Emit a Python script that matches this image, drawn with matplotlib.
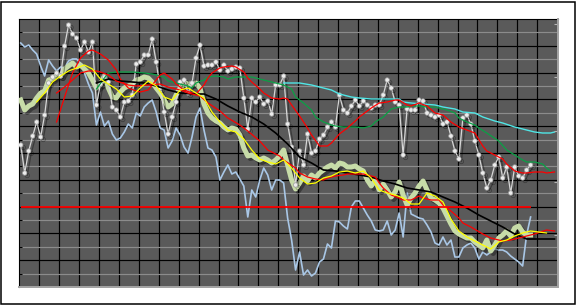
import numpy as np
import matplotlib
matplotlib.use("Agg")
import matplotlib.pyplot as plt
import matplotlib.patheffects as pe
from matplotlib.patches import Rectangle

# one bar index for the three raw series; chart units, 0 = bottom of the panel
BARS = np.arange(129)

white_vals = [142, 114, 136, 151, 165, 150, 172, 204, 210, 214, 211, 241, 262, 253, 249, 237,
              245, 235, 245, 182, 203, 210, 205, 180, 177, 170, 185, 186, 192, 223, 225, 232,
              232, 248, 225, 199, 175, 153, 170, 185, 205, 207, 194, 204, 229, 242, 221, 222,
              222, 225, 217, 222, 216, 218, 220, 219, 189, 158, 189, 185, 190, 183, 186, 173,
              202, 202, 211, 163, 140, 102, 136, 122, 153, 134, 136, 148, 152, 160, 165, 160,
              192, 177, 174, 181, 187, 181, 186, 182, 179, 182, 182, 192, 207, 199, 185, 182,
              132, 178, 177, 177, 187, 186, 174, 172, 170, 172, 163, 165, 151, 136, 128, 169,
              172, 163, 146, 132, 114, 99, 107, 122, 130, 109, 120, 94, 120, 111, 109, 117, 122]

green_vals = [187, 177, 181, 183, 189, 194, 196, 207, 208, 212, 211, 218, 221, 224, 220, 222,
              218, 214, 207, 199, 203, 211, 199, 190, 189, 195, 199, 201, 203, 207, 208, 210,
              209, 205, 199, 194, 187, 180, 183, 192, 199, 204, 203, 203, 204, 199, 183, 174,
              169, 166, 164, 160, 157, 159, 158, 152, 139, 131, 132, 129, 127, 129, 127, 124,
              127, 131, 137, 122, 107, 98, 104, 111, 106, 112, 109, 114, 117, 120, 122, 119,
              124, 123, 120, 120, 121, 118, 116, 107, 101, 107, 97, 103, 97, 90, 95, 105,
              92, 82, 89, 94, 101, 106, 97, 89, 87, 84, 79, 71, 63, 56, 53, 51,
              49, 49, 45, 42, 39, 47, 36, 42, 49, 52, 56, 51, 59, 61, 55, 52, 52]

blue_vals = [244, 240, 242, 237, 233, 221, 211, 227, 221, 216, 220, 219, 226, 228, 228, 224,
             214, 203, 194, 162, 175, 161, 166, 153, 147, 149, 155, 163, 159, 174, 171, 180,
             184, 187, 175, 159, 157, 139, 146, 159, 152, 140, 134, 150, 170, 179, 157, 139,
             137, 130, 107, 115, 122, 113, 115, 108, 101, 70, 97, 90, 107, 119, 112, 97,
             107, 107, 104, 69, 47, 17, 35, 12, 17, 11, 14, 25, 28, 43, 39, 66,
             65, 61, 58, 80, 86, 86, 79, 72, 66, 57, 56, 57, 66, 52, 57, 74,
             50, 94, 73, 71, 69, 68, 62, 55, 44, 42, 50, 42, 47, 30, 30, 39,
             42, 44, 39, 28, 35, 32, 35, 38, 37, 37, 35, 31, 28, 25, 21, 52, 70]

# averages drawn over the raw series (they run a few bars past the last one)
yellow_k = list(range(4, 133, 2))
yellow_v = [185, 194, 205, 211, 216, 219, 222, 218, 208, 203, 198, 190, 191, 199, 206, 201,
            190, 187, 197, 199, 194, 189, 175, 165, 157, 155, 148, 137, 128, 125, 123, 127,
            119, 109, 103, 104, 109, 111, 115, 116, 114, 116, 109, 97, 94, 92, 89, 83,
            83, 94, 91, 85, 68, 56, 50, 46, 42, 38, 45, 47, 51, 54, 56, 55, 54]

black_k = [19, 22, 25, 28, 31, 34, 37, 40, 43, 46, 49, 52, 55, 58, 61, 64, 67, 70, 73, 76,
           79, 82, 85, 88, 91, 94, 97, 100, 103, 106, 109, 112, 115, 118, 121, 124, 127,
           130, 133, 134]
black_v = [204, 208, 206, 205, 204, 201, 197, 194, 193, 193, 188, 181, 175, 170, 163, 154,
           143, 130, 124, 117, 116, 114, 112, 110, 106, 103, 99, 97, 95, 90, 85, 79,
           72, 66, 60, 53, 48, 48, 48, 48]

red_a_k = [9, 11, 13, 15, 17, 18, 20, 22, 24, 25, 27, 29, 30, 32, 35, 36, 38, 39, 41, 43,
           44, 46, 47, 48, 50, 51, 53, 54, 56, 57, 58, 60, 61, 63, 65, 66, 67, 68, 70, 72,
           73, 75, 77, 78, 80, 82, 84, 85, 87, 88, 90, 92, 94, 95, 97, 98, 100, 102, 104,
           106, 108, 110, 112, 114, 116, 117, 119, 121, 122, 124, 126, 127, 129, 131, 132, 134]
red_a_v = [165, 190, 214, 229, 236, 237, 233, 227, 217, 208, 199, 196, 195, 197, 212, 214,
           208, 203, 197, 194, 193, 202, 209, 214, 219, 220, 221, 220, 215, 209, 205, 198,
           194, 189, 188, 189, 188, 182, 171, 159, 152, 141, 141, 144, 153, 159, 166, 170,
           176, 179, 184, 185, 187, 187, 182, 181, 184, 181, 174, 172, 165, 160, 157, 154,
           141, 136, 132, 128, 123, 116, 114, 114, 115, 115, 114, 115]

red_b_k = [9, 11, 13, 15, 17, 19, 20, 22, 24, 27, 29, 32, 35, 37, 40, 42, 45, 47, 50, 52,
           55, 57, 60, 62, 65, 66, 69, 70, 72, 74, 76, 77, 79, 81, 82, 84, 86, 87, 89, 90,
           91, 93, 95, 96, 98, 100, 101, 103, 105, 106, 108, 110, 111, 113, 116, 118, 121,
           123, 126, 129, 132, 134]
red_b_v = [194, 200, 207, 214, 216, 216, 215, 212, 206, 202, 201, 202, 203, 200, 197, 194,
           191, 184, 176, 169, 162, 156, 146, 137, 131, 127, 119, 114, 110, 108, 107, 109,
           111, 112, 113, 113, 113, 112, 110, 104, 99, 92, 89, 87, 87, 91, 89, 87,
           87, 82, 76, 69, 64, 60, 53, 49, 46, 47, 50, 53, 57, 56]

dgreen_k = [19, 21, 22, 24, 26, 28, 31, 33, 36, 37, 39, 42, 43, 44, 46, 47, 49, 51, 52, 54,
            56, 58, 59, 61, 63, 64, 66, 68, 69, 71, 73, 74, 76, 78, 79, 81, 83, 84, 86, 88,
            89, 91, 92, 93, 95, 97, 98, 100, 102, 104, 105, 107, 109, 110, 112, 114, 115,
            117, 120, 122, 124, 126, 127, 129, 131, 132, 133]
dgreen_v = [198, 209, 214, 215, 215, 215, 214, 213, 210, 206, 204, 201, 199, 204, 207, 210,
            211, 210, 208, 210, 210, 210, 209, 207, 205, 204, 202, 198, 190, 184, 177, 170,
            165, 162, 161, 160, 160, 160, 159, 161, 165, 170, 174, 178, 180, 180, 181, 181,
            180, 180, 179, 177, 174, 169, 165, 162, 159, 154, 146, 137, 132, 127, 125, 125,
            123, 119, 116]

cyan_k = [66, 68, 70, 73, 75, 78, 80, 83, 85, 88, 90, 93, 95, 96, 98, 101, 104, 106, 109,
          111, 114, 116, 119, 121, 124, 126, 129, 131, 133, 134]
cyan_v = [204, 204, 204, 202, 200, 197, 193, 190, 189, 188, 188, 188, 188, 185, 184, 183,
          182, 180, 178, 175, 174, 170, 166, 164, 160, 158, 155, 154, 154, 155]

LEVEL = 80.3          # horizontal reference line
LEVEL_END = 128
RIGHT_TICKS = [51.7, 104.7, 156.3, 209.7, 262.7]   # second scale on the right edge

PANEL = "#5a5a5a"
MINOR = "#8c8c8c"

fig = plt.figure(figsize=(5.76, 3.06), dpi=100)
fig.patch.set_facecolor("white")
fig.patches.append(Rectangle((0.0026, 0.005), 0.9948, 0.990, transform=fig.transFigure,
                             fill=False, edgecolor="black", linewidth=1.1))

ax = fig.add_axes([0.0337, 0.0621, 0.9345, 0.8758])
ax.set_facecolor(PANEL)
ax.set_xlim(-1 / 3, 134.8)
ax.set_ylim(0, 268)

# grid: black verticals every 5 bars, black/gray horizontals alternating
for gx in np.arange(5, 135, 5) - 1 / 3:
    ax.axvline(gx, color="black", lw=0.85, zorder=1)
for gy in np.linspace(0, 268, 11)[1:-1]:
    ax.axhline(gy, color="black", lw=0.85, zorder=1)
for gy in np.linspace(0, 268, 11)[:-1] + 13.4:
    ax.axhline(gy, color=MINOR, lw=0.85, zorder=1)

ax.set_xticks([])
ax.set_yticks(np.linspace(0, 268, 11)[:-1] + 13.4)
ax.set_yticklabels([])
ax.tick_params(axis="y", direction="in", length=2, width=0.8, color="black")
for side in ["left", "top"]:
    ax.spines[side].set_color("black")
for side in ["right", "bottom"]:
    ax.spines[side].set_color("#a3a3a3")
    ax.spines[side].set_linewidth(1.4)

rax = ax.twinx()
rax.set_ylim(ax.get_ylim())
rax.set_yticks(RIGHT_TICKS)
rax.set_yticklabels([])
rax.tick_params(axis="y", direction="in", length=3, width=0.8, color="#b5b5b5")
for side in ["left", "top"]:
    rax.spines[side].set_visible(False)
rax.spines["right"].set_color("#a3a3a3")
rax.spines["right"].set_linewidth(1.4)
rax.spines["bottom"].set_color("#a3a3a3")
rax.spines["bottom"].set_linewidth(1.4)

shadow = [pe.SimpleLineShadow(offset=(1.8, -1.8), shadow_color="black", alpha=0.35), pe.Normal()]

ax.plot(BARS, blue_vals, color="#a9c7e6", lw=1.2, zorder=3)
ax.plot(BARS, green_vals, color="#c7dca8", lw=3.6, zorder=4, path_effects=shadow,
        solid_joinstyle="round")
ax.plot(BARS, white_vals, color="#d6d6d6", lw=0.9, zorder=5, marker="o", ms=3.2,
        mfc="#ececec", mec="#9a9a9a", mew=0.5, path_effects=shadow)
ax.plot(cyan_k, cyan_v, color="#4fe6e6", lw=1.0, zorder=6)
ax.plot(dgreen_k, dgreen_v, color="#0aa045", lw=0.9, zorder=6)
ax.plot(red_a_k, red_a_v, color="#ff0000", lw=0.9, zorder=6)
ax.plot(black_k, black_v, color="black", lw=1.2, zorder=6)
ax.plot(red_b_k, red_b_v, color="#ff0000", lw=0.9, zorder=7)
ax.plot(yellow_k, yellow_v, color="#ffff00", lw=0.9, zorder=7)
ax.hlines(LEVEL, BARS[0], LEVEL_END, color="#ff0000", lw=1.3, zorder=8)

fig.savefig("out.png", dpi=100, facecolor="white")
